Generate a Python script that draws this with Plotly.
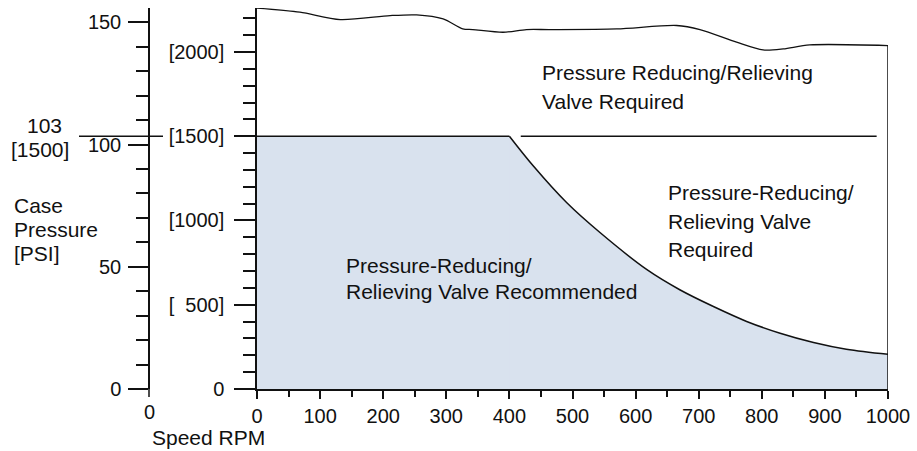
import plotly.graph_objects as go

# ---- data -------------------------------------------------------------
# speed axis ticks (RPM)
RPM_TICKS = list(range(0, 1001, 100))

# wavy upper boundary of the chart (PSI)
TOP_RPM = [0, 68, 132, 211, 253, 295, 326, 342, 390, 427, 464, 570, 665, 702, 760, 802, 834, 876, 1000]
TOP_PSI = [2260, 2236, 2192, 2216, 2220, 2196, 2137, 2133, 2117, 2133, 2133, 2137, 2157, 2133, 2058, 2012, 2018, 2042, 2038]

# recommended zone: flat at 1500 PSI up to 400 RPM, then falling off
FLAT_RPM = [0, 400]
FLAT_PSI = [1500, 1500]
FALL_RPM = [400, 438, 491, 544, 618, 670, 723, 776, 829, 882, 934, 1000]
FALL_PSI = [1500, 1323, 1105, 927, 708, 589, 490, 401, 331, 276, 236, 206]

# divider between the two "required" zones
DIVIDER_RPM = [418, 982]
DIVIDER_PSI = [1500, 1500]

# inner (PSI) and outer (bar) pressure scales
PSI_TICKS = [0, 500, 1000, 1500, 2000]
PSI_LABELS = ["0", "[\u00a0\u00a0500]", "[1000]", "[1500]", "[2000]"]
BAR_TICKS = [0, 50, 100, 150]
LIMIT_BAR = 103
LIMIT_PSI = 1500
PSI_PER_BAR = 14.5038

# ---- geometry -----------------------------------------------------------
W, H = 917, 451
PLOT_RIGHT, PLOT_TOP, PLOT_BOTTOM = 888, 8, 389
PLOT_H = PLOT_BOTTOM - PLOT_TOP
INNER_AXIS_X, OUTER_AXIS_X = 257, 149
PSI_TOP = 2261.0

FONT = "Liberation Sans, Arial, sans-serif"
INK = "#111111"
FILL = "#d9e2ee"


def fx(p):
    """horizontal pixel -> paper fraction"""
    return p / PLOT_RIGHT


def fy(p):
    """vertical pixel -> paper fraction"""
    return (PLOT_BOTTOM - p) / PLOT_H


fig = go.Figure()

# solid backing at the joint of the two shaded pieces (hides the seam)
fig.add_trace(go.Scatter(x=[FLAT_RPM[-1], FLAT_RPM[-1]], y=[0, FLAT_PSI[-1]], mode="lines",
                         line=dict(color=FILL, width=2)))
fig.add_trace(go.Scatter(x=FLAT_RPM, y=FLAT_PSI, mode="lines", fill="tozeroy",
                         fillcolor=FILL, line=dict(color=INK, width=1.5)))
fig.add_trace(go.Scatter(x=FALL_RPM, y=FALL_PSI, mode="lines", fill="tozeroy",
                         fillcolor=FILL, line=dict(color=INK, width=1.5, shape="spline")))
fig.add_trace(go.Scatter(x=TOP_RPM, y=TOP_PSI, mode="lines",
                         line=dict(color=INK, width=1.3, shape="spline", smoothing=0.8)))
fig.add_trace(go.Scatter(x=[TOP_RPM[-1], TOP_RPM[-1]], y=[0, TOP_PSI[-1]], mode="lines",
                         line=dict(color=INK, width=1.5)))
fig.add_trace(go.Scatter(x=DIVIDER_RPM, y=DIVIDER_PSI, mode="lines",
                         line=dict(color=INK, width=1.5)))
# the bar scale carries the 103 bar limit
fig.add_trace(go.Scatter(x=[0], y=[LIMIT_BAR], yaxis="y2", mode="markers",
                         marker=dict(opacity=0), hoverinfo="skip"))

tick_font = dict(family=FONT, size=20, color=INK)
axis_common = dict(showgrid=False, zeroline=False, showline=True, linecolor=INK,
                   linewidth=1.5, ticks="outside", tickcolor=INK, tickwidth=1.5,
                   tickfont=tick_font, fixedrange=True)

fig.update_layout(
    width=W, height=H,
    margin=dict(l=0, r=W - PLOT_RIGHT, t=PLOT_TOP, b=H - PLOT_BOTTOM, autoexpand=False),
    paper_bgcolor="white", plot_bgcolor="white",
    showlegend=False, hovermode=False,
    font=dict(family=FONT, color=INK),
    xaxis=dict(domain=[fx(INNER_AXIS_X), 1], range=[0, 1000], tickmode="array",
               tickvals=RPM_TICKS, ticklen=8,
               minor=dict(ticks="outside", ticklen=6, tickwidth=1.5, tickcolor=INK,
                          tickmode="linear", tick0=0, dtick=50),
               **axis_common),
    yaxis=dict(range=[0, PSI_TOP], anchor="x", tickmode="array", tickvals=PSI_TICKS,
               ticktext=PSI_LABELS, ticklen=21, ticklabelstandoff=6,
               minor=dict(ticks="outside", ticklen=12, tickwidth=1.5, tickcolor=INK,
                          tickmode="linear", tick0=0, dtick=100),
               **axis_common),
    yaxis2=dict(range=[0, PSI_TOP / PSI_PER_BAR], overlaying="y", anchor="free",
                position=fx(OUTER_AXIS_X), side="left", tickmode="array",
                tickvals=BAR_TICKS, ticklen=20, ticklabelstandoff=3,
                minor=dict(ticks="outside", ticklen=12, tickwidth=1.5, tickcolor=INK,
                           tickmode="linear", tick0=0, dtick=10),
                **axis_common),
)

# 103 bar / 1500 PSI reference mark crossing the bar scale
fig.add_shape(type="line", xref="paper", yref="y", x0=fx(79), x1=fx(163),
              y0=LIMIT_PSI, y1=LIMIT_PSI, line=dict(color=INK, width=1.5))
# zero mark under the bar scale
fig.add_shape(type="line", xref="paper", yref="paper", x0=fx(OUTER_AXIS_X),
              x1=fx(OUTER_AXIS_X), y0=0, y1=fy(397), line=dict(color=INK, width=1.5))


def label(text, x, y, anchor="left", size=21):
    fig.add_annotation(text=text, xref="paper", yref="paper", x=fx(x), y=fy(y),
                       xanchor=anchor, yanchor="middle", showarrow=False,
                       font=dict(family=FONT, size=size, color=INK))


label(f"{LIMIT_BAR}", 44, 125, anchor="center")
label(f"[{LIMIT_PSI}]", 40, 149, anchor="center")
label("Case", 12, 205)
label("Pressure", 12, 229)
label("[PSI]", 12, 253)
label("0", OUTER_AXIS_X, 412, anchor="center", size=20)
label("Speed RPM", 150, 437)

label("Pressure Reducing/Relieving", 540, 73)
label("Valve Required", 540, 102)
label("Pressure-Reducing/", 666, 192)
label("Relieving Valve", 666, 221)
label("Required", 666, 249)
label("Pressure-Reducing/", 344, 265)
label("Relieving Valve Recommended", 344, 291)

fig.write_html("out.html")
